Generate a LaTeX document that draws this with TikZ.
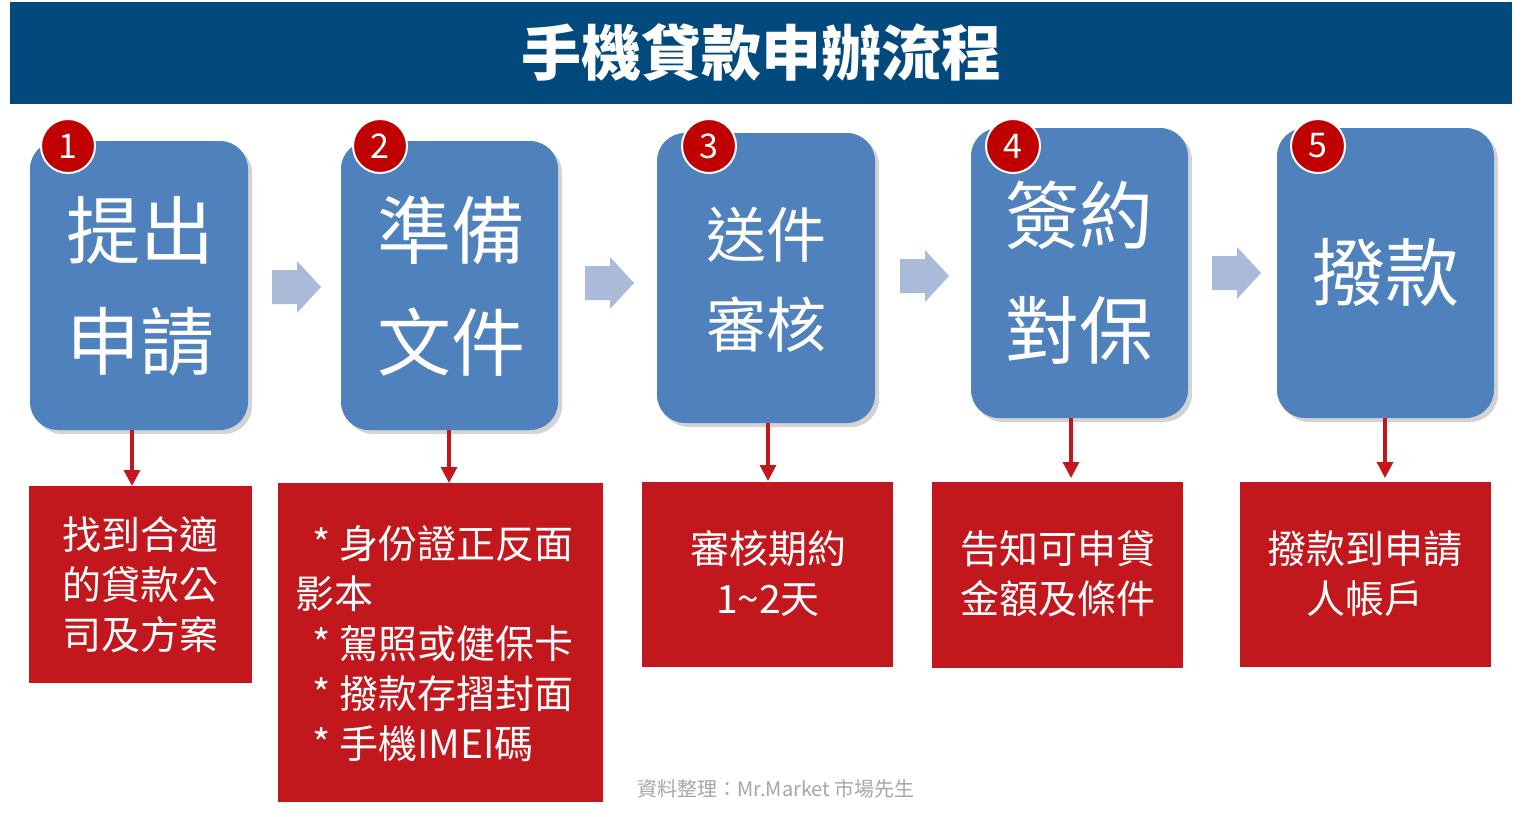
\documentclass[tikz,border=0pt]{standalone}
\usepackage{fontspec}
\setmainfont{Noto Sans CJK TC}
\usetikzlibrary{arrows.meta,shadows}
\definecolor{titleblue}{HTML}{02497D}
\definecolor{boxblue}{HTML}{4F81BD}
\definecolor{boxred}{HTML}{C2181D}
\definecolor{circred}{HTML}{C00000}
\definecolor{chev}{HTML}{A9BBD9}
\tikzset{
 stepbox/.style={draw=none,fill=boxblue,rounded corners=14pt,drop shadow={shadow xshift=2pt,shadow yshift=-2pt,opacity=0.35}},
 redbox/.style={fill=boxred,draw=none},
 num/.style={circle,fill=circred,draw=white,line width=1pt,minimum size=27pt,inner sep=0pt,text=white,font=\fontsize{17}{17}\selectfont},
 big/.style={text=white,font=\fontsize{37}{37}\selectfont},
 mid/.style={text=white,font=\fontsize{30}{30}\selectfont},
 small/.style={text=white,font=\fontsize{19.5}{25}\selectfont,align=center},
 down/.style={draw=boxred,line width=1.6pt,-{Triangle[length=8pt,width=8pt]}},
}
\begin{document}
\begin{tikzpicture}[x=0.5pt,y=-0.5pt]
\useasboundingbox (0,0) rectangle (1526,816);
\fill[titleblue] (10,2) rectangle (1512,104);
\node[text=white,font=\fontsize{30}{30}\selectfont\bfseries] (title) at (761,53) {手機貸款申辦流程};
% blue boxes
\path[stepbox] (30,141) rectangle (248,430);
\path[stepbox] (341,141) rectangle (558,430);
\path[stepbox] (657,133) rectangle (875,423);
\path[stepbox] (971,128) rectangle (1188,418);
\path[stepbox] (1277,128) rectangle (1494,418);
\coordinate (b1) at (132,430); \coordinate (b2) at (449,430); \coordinate (b3) at (768,423);
\coordinate (b4) at (1071,418); \coordinate (b5) at (1385,418);
% numbers
\node[num] (n1) at (68,146) {1};
\node[num] (n2) at (380,146) {2};
\node[num] (n3) at (709,146) {3};
\node[num] (n4) at (1013,146) {4};
\node[num] (n5) at (1318,146) {5};
% big texts
\node[big] (t1a) at (140,230) {提出};
\node[big] (t1b) at (140,342) {申請};
\node[big] (t2a) at (451,230) {準備};
\node[big] (t2b) at (451,342) {文件};
\node[mid] (t3a) at (766,235) {送件};
\node[mid] (t3b) at (766,325) {審核};
\node[big] (t4a) at (1079,215) {簽約};
\node[big] (t4b) at (1079,330) {對保};
\node[big] (t5a) at (1385,272) {撥款};
% chevrons
\foreach \x/\y in {272/287, 585/283, 900/276, 1212/273}{
 \fill[chev] (\x,\y-17) -- (\x+25,\y-17) -- (\x+25,\y-26) -- (\x+49,\y) -- (\x+25,\y+26) -- (\x+25,\y+17) -- (\x,\y+17) -- cycle;
}
% red boxes
\path[redbox] (29,486) rectangle (252,683);
\path[redbox] (278,483) rectangle (603,802);
\path[redbox] (642,482) rectangle (893,667);
\path[redbox] (932,482) rectangle (1183,668);
\path[redbox] (1240,482) rectangle (1491,667);
\coordinate (r1) at (132,486); \coordinate (r2) at (449,483); \coordinate (r3) at (768,481);
\coordinate (r4) at (1071,478); \coordinate (r5) at (1385,478);
\foreach \i in {1,...,5}{\draw[down] (b\i) -- (r\i);}
\node[small] (s1) at (140,585) {找到合適\\的貸款公\\司及方案};
\node[small,align=left,anchor=north west] (s2) at (288,518) {\ \ * 身份證正反面\\影本\\\ \ * 駕照或健保卡\\\ \ * 撥款存摺封面\\\ \ * 手機IMEI碼};
\node[small] (s3) at (768,574) {審核期約\\1\textasciitilde 2天};
\node[small] (s4) at (1058,574) {告知可申貸\\金額及條件};
\node[small] (s5) at (1365,574) {撥款到申請\\人帳戶};
\node[text=gray!70,font=\fontsize{10}{10}\selectfont] (foot) at (776,789) {資料整理：Mr.Market 市場先生};
\end{tikzpicture}
\end{document}
